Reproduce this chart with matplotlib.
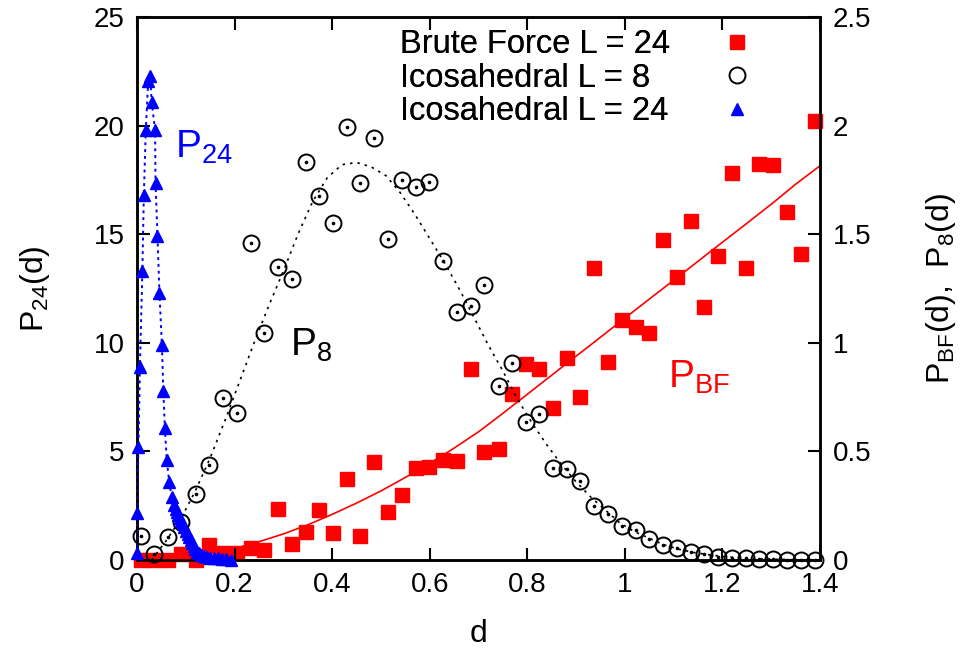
import matplotlib
matplotlib.use("Agg")
import matplotlib.pyplot as plt
from matplotlib.lines import Line2D
from matplotlib.ticker import FixedLocator, FixedFormatter

plt.rcParams['font.family'] = ['Liberation Sans', 'DejaVu Sans']
plt.rcParams['mathtext.fontset'] = 'custom'
plt.rcParams['mathtext.rm'] = 'Liberation Sans'
plt.rcParams['mathtext.it'] = 'Liberation Sans'
plt.rcParams['mathtext.default'] = 'regular'

# ---------------- data ----------------
grid_d = [0.0076, 0.035, 0.063, 0.090, 0.120, 0.148, 0.177, 0.204, 0.233, 0.260,
          0.288, 0.317, 0.346, 0.373, 0.402, 0.430, 0.457, 0.486, 0.514, 0.543,
          0.571, 0.598, 0.627, 0.655, 0.684, 0.711, 0.741, 0.769, 0.797, 0.825,
          0.852, 0.881, 0.908, 0.937, 0.965, 0.995, 1.022, 1.050, 1.079, 1.106,
          1.135, 1.163, 1.191, 1.220, 1.248, 1.275, 1.304, 1.333, 1.361, 1.390]

# Brute force L = 24 (right axis)
bf_p = [0.0, 0.0, 0.0, 0.028, 0.0, 0.069, 0.031, 0.034, 0.054, 0.046,
        0.233, 0.072, 0.128, 0.230, 0.126, 0.372, 0.110, 0.451, 0.221, 0.299,
        0.424, 0.428, 0.460, 0.456, 0.879, 0.497, 0.511, 0.764, 0.902, 0.878,
        0.698, 0.929, 0.752, 1.343, 0.910, 1.105, 1.074, 1.044, 1.473, 1.302,
        1.561, 1.163, 1.400, 1.782, 1.343, 1.823, 1.819, 1.601, 1.409, 2.021]

# Icosahedral L = 8 (right axis)
ico8_p = [0.110, 0.026, 0.107, 0.176, 0.304, 0.437, 0.744, 0.675, 1.458, 1.047,
          1.348, 1.294, 1.831, 1.676, 1.553, 1.995, 1.737, 1.944, 1.476, 1.750,
          1.716, 1.742, 1.377, 1.143, 1.169, 1.266, 0.801, 0.908, 0.637, 0.672,
          0.422, 0.418, 0.364, 0.249, 0.212, 0.157, 0.138, 0.095, 0.069, 0.054,
          0.035, 0.028, 0.015, 0.008, 0.008, 0.003, 0.003, 0.0, 0.0, 0.0]

# Icosahedral L = 24 (left axis)
ico24_d = [0.000, 0.000, 0.003, 0.006, 0.011, 0.014, 0.018, 0.023, 0.027, 0.030,
           0.037, 0.038, 0.042, 0.046, 0.051, 0.054, 0.057, 0.061, 0.066, 0.071,
           0.076, 0.079, 0.082, 0.085, 0.088, 0.091, 0.094, 0.097, 0.100, 0.104,
           0.107, 0.110, 0.113, 0.116, 0.119, 0.123, 0.127, 0.131, 0.137, 0.143,
           0.150, 0.158, 0.166, 0.174, 0.182, 0.193]
ico24_p = [0.3, 2.15, 5.2, 8.9, 13.3, 16.8, 19.8, 22.05, 22.3, 21.1,
           19.8, 17.35, 14.9, 12.3, 9.9, 7.8, 6.1, 4.6, 3.6, 2.9,
           2.53, 2.35, 2.21, 2.07, 1.93, 1.80, 1.66, 1.50, 1.34, 1.20,
           1.06, 0.92, 0.78, 0.64, 0.51, 0.39, 0.30, 0.23, 0.18, 0.14,
           0.11, 0.09, 0.07, 0.05, 0.03, 0.02]

# fitted curves (right axis)
fit8_d = [0.03, 0.06, 0.09, 0.12, 0.15, 0.18, 0.21, 0.24, 0.27, 0.30,
          0.33, 0.36, 0.39, 0.42, 0.45, 0.48, 0.51, 0.54, 0.57, 0.60,
          0.63, 0.66, 0.69, 0.72, 0.75, 0.78, 0.81, 0.84, 0.87, 0.90,
          0.93, 0.96, 0.99, 1.02, 1.05, 1.08, 1.11, 1.14, 1.17, 1.20,
          1.25, 1.30, 1.35, 1.40]
fit8_p = [0.0, 0.09, 0.19, 0.32, 0.47, 0.64, 0.82, 1.00, 1.17, 1.33,
          1.50, 1.65, 1.76, 1.82, 1.83, 1.81, 1.77, 1.69, 1.59, 1.48,
          1.37, 1.25, 1.12, 0.99, 0.87, 0.74, 0.63, 0.53, 0.44, 0.36,
          0.29, 0.23, 0.17, 0.13, 0.10, 0.07, 0.05, 0.035, 0.025, 0.016,
          0.008, 0.004, 0.001, 0.0]

fitbf_d = [0.11, 0.17, 0.24, 0.30, 0.35, 0.40, 0.45, 0.50, 0.55, 0.60,
           0.65, 0.70, 0.744, 0.80, 0.87, 0.94, 0.995, 1.05, 1.107, 1.16,
           1.20, 1.25, 1.304, 1.35, 1.40]
fitbf_p = [0.02, 0.035, 0.077, 0.12, 0.162, 0.21, 0.262, 0.318, 0.38, 0.445,
           0.515, 0.59, 0.665, 0.763, 0.886, 1.008, 1.105, 1.201, 1.30, 1.393,
           1.463, 1.55, 1.645, 1.73, 1.815]

legend_labels = ['Brute Force L = 24', 'Icosahedral L = 8', 'Icosahedral L = 24']

x_ticks = [0, 0.2, 0.4, 0.6, 0.8, 1.0, 1.2, 1.4]
x_labels = ['0', '0.2', '0.4', '0.6', '0.8', '1', '1.2', '1.4']
yl_ticks = [0, 5, 10, 15, 20, 25]
yl_labels = ['0', '5', '10', '15', '20', '25']
yr_ticks = [0, 0.5, 1.0, 1.5, 2.0, 2.5]
yr_labels = ['0', '0.5', '1', '1.5', '2', '2.5']

RED = '#ff0000'
BLUE = '#0000ff'

# ---------------- figure ----------------
fig = plt.figure(figsize=(9.66, 6.59), dpi=100)
ax = fig.add_axes([137 / 966, 1 - 560 / 659, (820 - 137) / 966, (560 - 17) / 659])
ax2 = ax.twinx()

ax.set_xlim(0, 1.4)
ax.set_ylim(0, 25)
ax2.set_ylim(0, 2.5)

# brute force
h_bf, = ax2.plot(grid_d, bf_p, linestyle='none', marker='s', markersize=10,
                 color=RED, clip_on=False, zorder=3)
ax2.plot(fitbf_d, fitbf_p, color=RED, linewidth=1.2, zorder=2)

# icosahedral L = 8
h_8, = ax2.plot(grid_d, ico8_p, linestyle='none', marker='o', markersize=11.5,
                markerfacecolor='none', markeredgecolor='black', markeredgewidth=1.4,
                clip_on=False, zorder=4)
ax2.plot(grid_d, ico8_p, linestyle='none', marker='o', markersize=1.6,
         color='black', clip_on=False, zorder=4)
ax2.plot(fit8_d, fit8_p, color='black', linewidth=1.2, linestyle=(0, (1.5, 3)), zorder=3)

# icosahedral L = 24
ax.plot(ico24_d, ico24_p, color=BLUE, linewidth=1.4, linestyle=(0, (1.5, 2)), zorder=5)
h_24, = ax.plot(ico24_d, ico24_p, linestyle='none', marker='^', markersize=9,
                color=BLUE, clip_on=False, zorder=6)
ax.set_zorder(ax2.get_zorder() + 1)
ax.patch.set_visible(False)

# ticks
ax.xaxis.set_major_locator(FixedLocator(x_ticks))
ax.xaxis.set_major_formatter(FixedFormatter(x_labels))
ax.yaxis.set_major_locator(FixedLocator(yl_ticks))
ax.yaxis.set_major_formatter(FixedFormatter(yl_labels))
ax2.yaxis.set_major_locator(FixedLocator(yr_ticks))
ax2.yaxis.set_major_formatter(FixedFormatter(yr_labels))

ax.tick_params(axis='both', direction='in', length=9, width=1.5, labelsize=20,
               pad=9, top=True, right=False)
ax2.tick_params(axis='y', direction='in', length=9, width=1.5, labelsize=20, pad=9)
for sp in list(ax.spines.values()) + list(ax2.spines.values()):
    sp.set_linewidth(1.8)

ax.set_xlabel('d', fontsize=23, labelpad=15)
ax.set_ylabel('P$_{24}$(d)', fontsize=23, labelpad=30)
ax2.set_ylabel('P$_{BF}$(d),  P$_{8}$(d)', fontsize=23, labelpad=38)

# annotations
ax.text(0.078, 19.0, 'P$_{24}$', color=BLUE, fontsize=28, ha='left', va='center')
ax.text(0.313, 9.9, 'P$_{8}$', color='black', fontsize=28, ha='left', va='center')
ax.text(1.088, 8.4, 'P$_{BF}$', color=RED, fontsize=28, ha='left', va='center')

# legend: left-aligned labels (text column) + marker column on the right
blank = [Line2D([], [], linestyle='none', marker=None) for _ in legend_labels]
leg1 = ax.legend(blank, legend_labels, loc='upper left',
                 bbox_to_anchor=(400 / 966, 1 - 29 / 659), bbox_transform=fig.transFigure,
                 frameon=False, fontsize=23.5, handlelength=0, handletextpad=0,
                 labelspacing=0.08, borderpad=0, borderaxespad=0)
ax.add_artist(leg1)
leg2 = ax2.legend([h_bf, h_8, h_24], [' ', ' ', ' '], loc='upper left',
                  bbox_to_anchor=(728.5 / 966, 1 - 29 / 659), bbox_transform=fig.transFigure,
                  frameon=False, fontsize=23.5, handlelength=0.5, handletextpad=0,
                  labelspacing=0.08, borderpad=0, borderaxespad=0)

fig.savefig('out.png', dpi=100)
